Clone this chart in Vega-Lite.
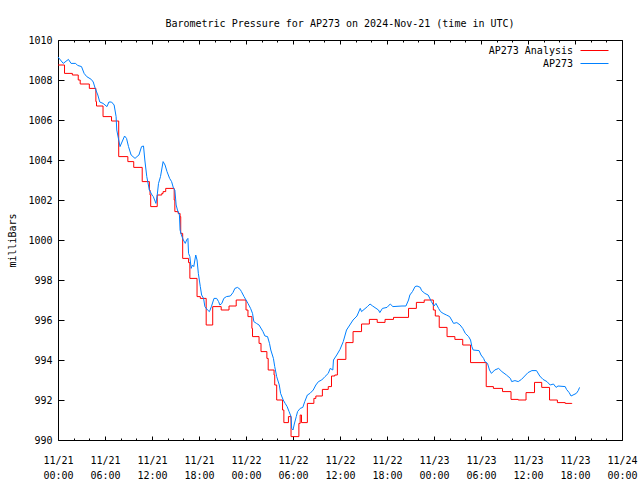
{
  "$schema": "https://vega.github.io/schema/vega-lite/v6.json",
  "width": 564,
  "height": 400,
  "autosize": {"type": "none"},
  "padding": {"left": 58, "top": 40, "right": 18, "bottom": 40},
  "background": "white",
  "config": {
    "font": "DejaVu Sans Mono",
    "view": {"stroke": "black", "strokeWidth": 1},
    "axis": {"grid": false, "domain": false, "labelFont": "DejaVu Sans Mono", "labelFontSize": 10, "labelColor": "black", "tickColor": "black", "tickWidth": 1, "titleFont": "DejaVu Sans Mono", "titleFontSize": 10, "titleFontWeight": "normal", "titleColor": "black"}
  },
  "title": {"text": "Barometric Pressure for AP273 on 2024-Nov-21 (time in UTC)", "font": "DejaVu Sans Mono", "fontSize": 10, "fontWeight": "normal", "color": "black", "anchor": "middle", "baseline": "alphabetic", "offset": -2},
  "datasets": {
    "analysis": [
      {"time": "2024-11-21T00:00:00Z", "pressure": 1008.75},
      {"time": "2024-11-21T00:50:00Z", "pressure": 1008.33},
      {"time": "2024-11-21T01:50:00Z", "pressure": 1008.25},
      {"time": "2024-11-21T02:35:00Z", "pressure": 1008.0},
      {"time": "2024-11-21T02:50:00Z", "pressure": 1007.8},
      {"time": "2024-11-21T04:00:00Z", "pressure": 1007.58},
      {"time": "2024-11-21T04:50:00Z", "pressure": 1006.92},
      {"time": "2024-11-21T04:55:00Z", "pressure": 1006.7},
      {"time": "2024-11-21T05:45:00Z", "pressure": 1006.17},
      {"time": "2024-11-21T06:50:00Z", "pressure": 1005.95},
      {"time": "2024-11-21T07:45:00Z", "pressure": 1004.17},
      {"time": "2024-11-21T08:55:00Z", "pressure": 1003.92},
      {"time": "2024-11-21T09:40:00Z", "pressure": 1003.63},
      {"time": "2024-11-21T10:45:00Z", "pressure": 1002.92},
      {"time": "2024-11-21T11:40:00Z", "pressure": 1002.5},
      {"time": "2024-11-21T11:45:00Z", "pressure": 1002.25},
      {"time": "2024-11-21T11:50:00Z", "pressure": 1001.67},
      {"time": "2024-11-21T12:40:00Z", "pressure": 1002.25},
      {"time": "2024-11-21T13:15:00Z", "pressure": 1002.33},
      {"time": "2024-11-21T13:25:00Z", "pressure": 1002.42},
      {"time": "2024-11-21T13:45:00Z", "pressure": 1002.58},
      {"time": "2024-11-21T14:50:00Z", "pressure": 1002.0},
      {"time": "2024-11-21T14:55:00Z", "pressure": 1001.42},
      {"time": "2024-11-21T15:20:00Z", "pressure": 1001.33},
      {"time": "2024-11-21T15:35:00Z", "pressure": 1001.17},
      {"time": "2024-11-21T15:40:00Z", "pressure": 1000.33},
      {"time": "2024-11-21T15:55:00Z", "pressure": 999.08},
      {"time": "2024-11-21T16:40:00Z", "pressure": 998.87},
      {"time": "2024-11-21T16:50:00Z", "pressure": 998.08},
      {"time": "2024-11-21T17:45:00Z", "pressure": 997.17},
      {"time": "2024-11-21T18:10:00Z", "pressure": 997.08},
      {"time": "2024-11-21T18:55:00Z", "pressure": 995.75},
      {"time": "2024-11-21T19:45:00Z", "pressure": 996.67},
      {"time": "2024-11-21T20:50:00Z", "pressure": 996.5},
      {"time": "2024-11-21T21:50:00Z", "pressure": 996.7},
      {"time": "2024-11-21T22:45:00Z", "pressure": 997.0},
      {"time": "2024-11-22T00:00:00Z", "pressure": 996.5},
      {"time": "2024-11-22T00:15:00Z", "pressure": 996.17},
      {"time": "2024-11-22T00:45:00Z", "pressure": 995.58},
      {"time": "2024-11-22T00:50:00Z", "pressure": 995.17},
      {"time": "2024-11-22T01:40:00Z", "pressure": 994.83},
      {"time": "2024-11-22T01:55:00Z", "pressure": 994.42},
      {"time": "2024-11-22T02:40:00Z", "pressure": 994.08},
      {"time": "2024-11-22T02:50:00Z", "pressure": 993.5},
      {"time": "2024-11-22T03:35:00Z", "pressure": 993.25},
      {"time": "2024-11-22T03:40:00Z", "pressure": 992.75},
      {"time": "2024-11-22T03:55:00Z", "pressure": 992.0},
      {"time": "2024-11-22T04:40:00Z", "pressure": 991.5},
      {"time": "2024-11-22T04:50:00Z", "pressure": 990.87},
      {"time": "2024-11-22T05:25:00Z", "pressure": 991.17},
      {"time": "2024-11-22T05:45:00Z", "pressure": 990.17},
      {"time": "2024-11-22T06:45:00Z", "pressure": 990.83},
      {"time": "2024-11-22T06:55:00Z", "pressure": 991.25},
      {"time": "2024-11-22T07:05:00Z", "pressure": 990.87},
      {"time": "2024-11-22T07:50:00Z", "pressure": 991.83},
      {"time": "2024-11-22T08:40:00Z", "pressure": 992.08},
      {"time": "2024-11-22T08:55:00Z", "pressure": 992.2},
      {"time": "2024-11-22T09:45:00Z", "pressure": 992.53},
      {"time": "2024-11-22T10:30:00Z", "pressure": 992.67},
      {"time": "2024-11-22T10:55:00Z", "pressure": 993.2},
      {"time": "2024-11-22T11:20:00Z", "pressure": 993.25},
      {"time": "2024-11-22T11:40:00Z", "pressure": 994.03},
      {"time": "2024-11-22T12:45:00Z", "pressure": 994.87},
      {"time": "2024-11-22T13:40:00Z", "pressure": 995.42},
      {"time": "2024-11-22T14:45:00Z", "pressure": 995.8},
      {"time": "2024-11-22T15:45:00Z", "pressure": 996.03},
      {"time": "2024-11-22T16:45:00Z", "pressure": 995.88},
      {"time": "2024-11-22T17:45:00Z", "pressure": 996.03},
      {"time": "2024-11-22T18:50:00Z", "pressure": 996.13},
      {"time": "2024-11-22T20:45:00Z", "pressure": 996.58},
      {"time": "2024-11-22T21:45:00Z", "pressure": 996.88},
      {"time": "2024-11-22T22:45:00Z", "pressure": 997.0},
      {"time": "2024-11-22T23:55:00Z", "pressure": 996.5},
      {"time": "2024-11-23T00:10:00Z", "pressure": 996.2},
      {"time": "2024-11-23T00:40:00Z", "pressure": 995.63},
      {"time": "2024-11-23T01:40:00Z", "pressure": 995.17},
      {"time": "2024-11-23T02:40:00Z", "pressure": 995.03},
      {"time": "2024-11-23T03:40:00Z", "pressure": 994.75},
      {"time": "2024-11-23T04:40:00Z", "pressure": 993.87},
      {"time": "2024-11-23T06:40:00Z", "pressure": 992.67},
      {"time": "2024-11-23T07:35:00Z", "pressure": 992.58},
      {"time": "2024-11-23T08:45:00Z", "pressure": 992.42},
      {"time": "2024-11-23T09:50:00Z", "pressure": 992.03},
      {"time": "2024-11-23T10:45:00Z", "pressure": 992.0},
      {"time": "2024-11-23T11:45:00Z", "pressure": 992.37},
      {"time": "2024-11-23T12:50:00Z", "pressure": 992.88},
      {"time": "2024-11-23T13:45:00Z", "pressure": 992.63},
      {"time": "2024-11-23T14:45:00Z", "pressure": 992.0},
      {"time": "2024-11-23T15:45:00Z", "pressure": 991.87},
      {"time": "2024-11-23T16:45:00Z", "pressure": 991.83},
      {"time": "2024-11-23T17:35:00Z", "pressure": 991.8}
    ],
    "obs": [
      {"time": "2024-11-21T00:00:00Z", "pressure": 1009.15},
      {"time": "2024-11-21T00:40:00Z", "pressure": 1008.83},
      {"time": "2024-11-21T01:20:00Z", "pressure": 1009.03},
      {"time": "2024-11-21T01:40:00Z", "pressure": 1008.83},
      {"time": "2024-11-21T02:15:00Z", "pressure": 1008.83},
      {"time": "2024-11-21T02:30:00Z", "pressure": 1008.73},
      {"time": "2024-11-21T03:00:00Z", "pressure": 1008.67},
      {"time": "2024-11-21T03:20:00Z", "pressure": 1008.33},
      {"time": "2024-11-21T03:40:00Z", "pressure": 1008.17},
      {"time": "2024-11-21T04:15:00Z", "pressure": 1008.03},
      {"time": "2024-11-21T04:30:00Z", "pressure": 1007.9},
      {"time": "2024-11-21T04:45:00Z", "pressure": 1007.58},
      {"time": "2024-11-21T05:05:00Z", "pressure": 1007.25},
      {"time": "2024-11-21T05:20:00Z", "pressure": 1006.9},
      {"time": "2024-11-21T05:45:00Z", "pressure": 1006.83},
      {"time": "2024-11-21T06:15:00Z", "pressure": 1006.67},
      {"time": "2024-11-21T06:30:00Z", "pressure": 1006.9},
      {"time": "2024-11-21T06:50:00Z", "pressure": 1006.9},
      {"time": "2024-11-21T07:10:00Z", "pressure": 1006.75},
      {"time": "2024-11-21T07:25:00Z", "pressure": 1006.17},
      {"time": "2024-11-21T07:30:00Z", "pressure": 1005.5},
      {"time": "2024-11-21T07:45:00Z", "pressure": 1005.0},
      {"time": "2024-11-21T07:55:00Z", "pressure": 1004.67},
      {"time": "2024-11-21T08:30:00Z", "pressure": 1005.2},
      {"time": "2024-11-21T08:45:00Z", "pressure": 1005.08},
      {"time": "2024-11-21T09:00:00Z", "pressure": 1004.67},
      {"time": "2024-11-21T09:20:00Z", "pressure": 1004.25},
      {"time": "2024-11-21T09:50:00Z", "pressure": 1004.08},
      {"time": "2024-11-21T10:05:00Z", "pressure": 1004.17},
      {"time": "2024-11-21T10:20:00Z", "pressure": 1004.25},
      {"time": "2024-11-21T10:40:00Z", "pressure": 1004.67},
      {"time": "2024-11-21T10:55:00Z", "pressure": 1004.7},
      {"time": "2024-11-21T11:05:00Z", "pressure": 1004.0},
      {"time": "2024-11-21T11:20:00Z", "pressure": 1003.17},
      {"time": "2024-11-21T11:40:00Z", "pressure": 1002.5},
      {"time": "2024-11-21T12:00:00Z", "pressure": 1002.25},
      {"time": "2024-11-21T12:10:00Z", "pressure": 1002.17},
      {"time": "2024-11-21T12:30:00Z", "pressure": 1001.83},
      {"time": "2024-11-21T12:40:00Z", "pressure": 1002.25},
      {"time": "2024-11-21T12:50:00Z", "pressure": 1002.83},
      {"time": "2024-11-21T13:05:00Z", "pressure": 1003.17},
      {"time": "2024-11-21T13:25:00Z", "pressure": 1003.92},
      {"time": "2024-11-21T13:40:00Z", "pressure": 1003.75},
      {"time": "2024-11-21T13:55:00Z", "pressure": 1003.42},
      {"time": "2024-11-21T14:15:00Z", "pressure": 1003.08},
      {"time": "2024-11-21T14:30:00Z", "pressure": 1002.92},
      {"time": "2024-11-21T14:45:00Z", "pressure": 1002.58},
      {"time": "2024-11-21T14:55:00Z", "pressure": 1002.5},
      {"time": "2024-11-21T15:05:00Z", "pressure": 1001.75},
      {"time": "2024-11-21T15:15:00Z", "pressure": 1001.5},
      {"time": "2024-11-21T15:30:00Z", "pressure": 1001.25},
      {"time": "2024-11-21T15:35:00Z", "pressure": 1000.5},
      {"time": "2024-11-21T15:45:00Z", "pressure": 1000.25},
      {"time": "2024-11-21T16:00:00Z", "pressure": 1000.0},
      {"time": "2024-11-21T16:15:00Z", "pressure": 999.83},
      {"time": "2024-11-21T16:25:00Z", "pressure": 1000.0},
      {"time": "2024-11-21T16:35:00Z", "pressure": 1000.08},
      {"time": "2024-11-21T16:40:00Z", "pressure": 999.33},
      {"time": "2024-11-21T16:50:00Z", "pressure": 999.17},
      {"time": "2024-11-21T17:00:00Z", "pressure": 998.58},
      {"time": "2024-11-21T17:10:00Z", "pressure": 998.75},
      {"time": "2024-11-21T17:20:00Z", "pressure": 998.67},
      {"time": "2024-11-21T17:35:00Z", "pressure": 999.25},
      {"time": "2024-11-21T17:45:00Z", "pressure": 999.0},
      {"time": "2024-11-21T17:55:00Z", "pressure": 998.33},
      {"time": "2024-11-21T18:10:00Z", "pressure": 997.67},
      {"time": "2024-11-21T18:20:00Z", "pressure": 997.25},
      {"time": "2024-11-21T18:35:00Z", "pressure": 997.08},
      {"time": "2024-11-21T18:45:00Z", "pressure": 996.67},
      {"time": "2024-11-21T19:05:00Z", "pressure": 996.5},
      {"time": "2024-11-21T19:20:00Z", "pressure": 996.42},
      {"time": "2024-11-21T19:35:00Z", "pressure": 996.67},
      {"time": "2024-11-21T19:55:00Z", "pressure": 997.08},
      {"time": "2024-11-21T20:15:00Z", "pressure": 997.08},
      {"time": "2024-11-21T20:30:00Z", "pressure": 996.92},
      {"time": "2024-11-21T20:40:00Z", "pressure": 996.75},
      {"time": "2024-11-21T20:55:00Z", "pressure": 996.83},
      {"time": "2024-11-21T21:10:00Z", "pressure": 997.08},
      {"time": "2024-11-21T21:30:00Z", "pressure": 997.17},
      {"time": "2024-11-21T22:00:00Z", "pressure": 997.2},
      {"time": "2024-11-21T22:20:00Z", "pressure": 997.37},
      {"time": "2024-11-21T22:35:00Z", "pressure": 997.58},
      {"time": "2024-11-21T22:55:00Z", "pressure": 997.63},
      {"time": "2024-11-21T23:15:00Z", "pressure": 997.53},
      {"time": "2024-11-21T23:25:00Z", "pressure": 997.42},
      {"time": "2024-11-21T23:45:00Z", "pressure": 997.17},
      {"time": "2024-11-22T00:00:00Z", "pressure": 997.0},
      {"time": "2024-11-22T00:15:00Z", "pressure": 996.83},
      {"time": "2024-11-22T00:35:00Z", "pressure": 996.58},
      {"time": "2024-11-22T00:50:00Z", "pressure": 996.33},
      {"time": "2024-11-22T01:00:00Z", "pressure": 995.92},
      {"time": "2024-11-22T01:20:00Z", "pressure": 995.83},
      {"time": "2024-11-22T01:40:00Z", "pressure": 995.75},
      {"time": "2024-11-22T02:10:00Z", "pressure": 995.42},
      {"time": "2024-11-22T02:25:00Z", "pressure": 995.2},
      {"time": "2024-11-22T02:45:00Z", "pressure": 995.17},
      {"time": "2024-11-22T03:00:00Z", "pressure": 994.83},
      {"time": "2024-11-22T03:10:00Z", "pressure": 994.5},
      {"time": "2024-11-22T03:30:00Z", "pressure": 994.08},
      {"time": "2024-11-22T03:40:00Z", "pressure": 993.67},
      {"time": "2024-11-22T03:55:00Z", "pressure": 993.17},
      {"time": "2024-11-22T04:15:00Z", "pressure": 992.75},
      {"time": "2024-11-22T04:25:00Z", "pressure": 992.33},
      {"time": "2024-11-22T04:45:00Z", "pressure": 992.0},
      {"time": "2024-11-22T05:00:00Z", "pressure": 991.83},
      {"time": "2024-11-22T05:15:00Z", "pressure": 991.67},
      {"time": "2024-11-22T05:30:00Z", "pressure": 991.42},
      {"time": "2024-11-22T05:45:00Z", "pressure": 991.17},
      {"time": "2024-11-22T05:50:00Z", "pressure": 990.58},
      {"time": "2024-11-22T06:00:00Z", "pressure": 990.5},
      {"time": "2024-11-22T06:10:00Z", "pressure": 990.8},
      {"time": "2024-11-22T06:25:00Z", "pressure": 991.17},
      {"time": "2024-11-22T06:35:00Z", "pressure": 991.42},
      {"time": "2024-11-22T06:55:00Z", "pressure": 991.58},
      {"time": "2024-11-22T07:15:00Z", "pressure": 991.63},
      {"time": "2024-11-22T07:30:00Z", "pressure": 991.92},
      {"time": "2024-11-22T07:50:00Z", "pressure": 992.25},
      {"time": "2024-11-22T08:10:00Z", "pressure": 992.33},
      {"time": "2024-11-22T08:35:00Z", "pressure": 992.5},
      {"time": "2024-11-22T08:55:00Z", "pressure": 992.75},
      {"time": "2024-11-22T09:15:00Z", "pressure": 992.92},
      {"time": "2024-11-22T09:40:00Z", "pressure": 993.0},
      {"time": "2024-11-22T10:05:00Z", "pressure": 993.17},
      {"time": "2024-11-22T10:30:00Z", "pressure": 993.33},
      {"time": "2024-11-22T10:45:00Z", "pressure": 993.58},
      {"time": "2024-11-22T11:05:00Z", "pressure": 993.5},
      {"time": "2024-11-22T11:10:00Z", "pressure": 994.0},
      {"time": "2024-11-22T11:35:00Z", "pressure": 994.25},
      {"time": "2024-11-22T12:00:00Z", "pressure": 994.53},
      {"time": "2024-11-22T12:25:00Z", "pressure": 994.92},
      {"time": "2024-11-22T12:50:00Z", "pressure": 995.5},
      {"time": "2024-11-22T13:15:00Z", "pressure": 995.75},
      {"time": "2024-11-22T13:40:00Z", "pressure": 996.0},
      {"time": "2024-11-22T14:10:00Z", "pressure": 996.2},
      {"time": "2024-11-22T14:35:00Z", "pressure": 996.58},
      {"time": "2024-11-22T14:45:00Z", "pressure": 996.42},
      {"time": "2024-11-22T15:30:00Z", "pressure": 996.67},
      {"time": "2024-11-22T15:50:00Z", "pressure": 996.8},
      {"time": "2024-11-22T16:10:00Z", "pressure": 996.7},
      {"time": "2024-11-22T16:55:00Z", "pressure": 996.5},
      {"time": "2024-11-22T17:05:00Z", "pressure": 996.37},
      {"time": "2024-11-22T17:25:00Z", "pressure": 996.58},
      {"time": "2024-11-22T18:00:00Z", "pressure": 996.63},
      {"time": "2024-11-22T18:25:00Z", "pressure": 996.8},
      {"time": "2024-11-22T18:45:00Z", "pressure": 996.67},
      {"time": "2024-11-22T19:55:00Z", "pressure": 996.7},
      {"time": "2024-11-22T20:25:00Z", "pressure": 996.7},
      {"time": "2024-11-22T20:45:00Z", "pressure": 997.0},
      {"time": "2024-11-22T20:55:00Z", "pressure": 997.25},
      {"time": "2024-11-22T21:15:00Z", "pressure": 997.42},
      {"time": "2024-11-22T21:35:00Z", "pressure": 997.67},
      {"time": "2024-11-22T21:50:00Z", "pressure": 997.7},
      {"time": "2024-11-22T22:15:00Z", "pressure": 997.63},
      {"time": "2024-11-22T22:25:00Z", "pressure": 997.47},
      {"time": "2024-11-22T22:50:00Z", "pressure": 997.33},
      {"time": "2024-11-22T23:15:00Z", "pressure": 997.25},
      {"time": "2024-11-22T23:40:00Z", "pressure": 996.92},
      {"time": "2024-11-23T00:00:00Z", "pressure": 996.7},
      {"time": "2024-11-23T00:15:00Z", "pressure": 996.83},
      {"time": "2024-11-23T00:35:00Z", "pressure": 996.58},
      {"time": "2024-11-23T00:50:00Z", "pressure": 996.42},
      {"time": "2024-11-23T01:10:00Z", "pressure": 996.33},
      {"time": "2024-11-23T01:35:00Z", "pressure": 996.25},
      {"time": "2024-11-23T02:00:00Z", "pressure": 996.17},
      {"time": "2024-11-23T02:30:00Z", "pressure": 995.83},
      {"time": "2024-11-23T02:55:00Z", "pressure": 995.87},
      {"time": "2024-11-23T03:20:00Z", "pressure": 995.75},
      {"time": "2024-11-23T03:40:00Z", "pressure": 995.58},
      {"time": "2024-11-23T04:00:00Z", "pressure": 995.33},
      {"time": "2024-11-23T04:25:00Z", "pressure": 995.17},
      {"time": "2024-11-23T04:40:00Z", "pressure": 995.0},
      {"time": "2024-11-23T04:50:00Z", "pressure": 994.67},
      {"time": "2024-11-23T05:00:00Z", "pressure": 994.5},
      {"time": "2024-11-23T05:45:00Z", "pressure": 994.47},
      {"time": "2024-11-23T06:00:00Z", "pressure": 994.25},
      {"time": "2024-11-23T06:20:00Z", "pressure": 994.08},
      {"time": "2024-11-23T06:30:00Z", "pressure": 993.92},
      {"time": "2024-11-23T06:50:00Z", "pressure": 993.83},
      {"time": "2024-11-23T07:05:00Z", "pressure": 993.5},
      {"time": "2024-11-23T07:20:00Z", "pressure": 993.33},
      {"time": "2024-11-23T07:45:00Z", "pressure": 993.5},
      {"time": "2024-11-23T08:15:00Z", "pressure": 993.58},
      {"time": "2024-11-23T08:40:00Z", "pressure": 993.42},
      {"time": "2024-11-23T09:15:00Z", "pressure": 993.25},
      {"time": "2024-11-23T09:45:00Z", "pressure": 993.08},
      {"time": "2024-11-23T09:55:00Z", "pressure": 992.92},
      {"time": "2024-11-23T10:20:00Z", "pressure": 992.97},
      {"time": "2024-11-23T10:45:00Z", "pressure": 992.92},
      {"time": "2024-11-23T11:10:00Z", "pressure": 993.03},
      {"time": "2024-11-23T11:35:00Z", "pressure": 993.2},
      {"time": "2024-11-23T12:00:00Z", "pressure": 993.37},
      {"time": "2024-11-23T12:30:00Z", "pressure": 993.47},
      {"time": "2024-11-23T13:05:00Z", "pressure": 993.47},
      {"time": "2024-11-23T13:30:00Z", "pressure": 993.2},
      {"time": "2024-11-23T13:55:00Z", "pressure": 993.03},
      {"time": "2024-11-23T14:25:00Z", "pressure": 992.92},
      {"time": "2024-11-23T14:50:00Z", "pressure": 992.75},
      {"time": "2024-11-23T15:15:00Z", "pressure": 992.8},
      {"time": "2024-11-23T15:35:00Z", "pressure": 992.63},
      {"time": "2024-11-23T15:50:00Z", "pressure": 992.7},
      {"time": "2024-11-23T16:45:00Z", "pressure": 992.67},
      {"time": "2024-11-23T16:55:00Z", "pressure": 992.53},
      {"time": "2024-11-23T17:15:00Z", "pressure": 992.37},
      {"time": "2024-11-23T17:30:00Z", "pressure": 992.2},
      {"time": "2024-11-23T17:45:00Z", "pressure": 992.25},
      {"time": "2024-11-23T18:10:00Z", "pressure": 992.33},
      {"time": "2024-11-23T18:25:00Z", "pressure": 992.47},
      {"time": "2024-11-23T18:35:00Z", "pressure": 992.63}
    ]
  },
  "layer": [
    {
      "data": {"name": "analysis"},
      "mark": {"type": "line", "interpolate": "step-after", "strokeWidth": 1},
      "encoding": {
        "x": {
          "field": "time", "type": "temporal",
          "scale": {"type": "utc", "domain": [1732147200000, 1732406400000], "nice": false},
          "axis": {
            "orient": "bottom", "title": null,
            "values": [1732147200000, 1732154400000, 1732161600000, 1732168800000, 1732176000000, 1732183200000, 1732190400000, 1732197600000, 1732204800000, 1732212000000, 1732219200000, 1732226400000, 1732233600000, 1732240800000, 1732248000000, 1732255200000, 1732262400000, 1732269600000, 1732276800000, 1732284000000, 1732291200000, 1732298400000, 1732305600000, 1732312800000, 1732320000000, 1732327200000, 1732334400000, 1732341600000, 1732348800000, 1732356000000, 1732363200000, 1732370400000, 1732377600000, 1732384800000, 1732392000000, 1732399200000, 1732406400000],
            "tickSize": {"condition": {"test": "utchours(datum.value) % 6 == 0", "value": -4}, "value": -2},
            "labelExpr": "utchours(datum.value) % 6 == 0 ? [utcFormat(datum.value, '%m/%d'), utcFormat(datum.value, '%H:%M')] : ''",
            "labelBaseline": "top", "labelAlign": "center", "labelLineHeight": 15, "labelPadding": 19,
            "labelOverlap": false, "labelFlush": false, "labelBound": false
          }
        },
        "y": {
          "field": "pressure", "type": "quantitative",
          "scale": {"domain": [990, 1010], "nice": false, "zero": false},
          "axis": {
            "orient": "left", "title": "milliBars", "format": "d",
            "values": [990, 992, 994, 996, 998, 1000, 1002, 1004, 1006, 1008, 1010],
            "tickSize": -6, "labelPadding": 12, "labelOverlap": false, "labelFlush": false,
            "titleAngle": -90, "titleX": -46, "titleY": 200, "titleAlign": "center", "titleBaseline": "middle"
          }
        },
        "color": {
          "datum": "AP273 Analysis",
          "scale": {"domain": ["AP273 Analysis", "AP273"], "range": ["#ff0000", "#0080ff"]},
          "legend": {
            "title": null, "orient": "none", "legendX": 529, "legendY": 3,
            "symbolType": "M-2,0H2", "symbolSize": 196, "symbolStrokeWidth": 1,
            "labelAlign": "right", "labelOffset": -29,
            "labelFont": "DejaVu Sans Mono", "labelFontSize": 10, "labelColor": "black",
            "rowPadding": -1
          }
        }
      }
    },
    {
      "data": {"name": "obs"},
      "mark": {"type": "line", "interpolate": "linear", "strokeWidth": 1},
      "encoding": {
        "x": {
          "field": "time", "type": "temporal",
          "axis": {
            "orient": "top", "title": null, "labels": false,
            "values": [1732147200000, 1732154400000, 1732161600000, 1732168800000, 1732176000000, 1732183200000, 1732190400000, 1732197600000, 1732204800000, 1732212000000, 1732219200000, 1732226400000, 1732233600000, 1732240800000, 1732248000000, 1732255200000, 1732262400000, 1732269600000, 1732276800000, 1732284000000, 1732291200000, 1732298400000, 1732305600000, 1732312800000, 1732320000000, 1732327200000, 1732334400000, 1732341600000, 1732348800000, 1732356000000, 1732363200000, 1732370400000, 1732377600000, 1732384800000, 1732392000000, 1732399200000, 1732406400000],
            "tickSize": {"condition": {"test": "utchours(datum.value) % 6 == 0", "value": -4}, "value": -2}
          }
        },
        "y": {
          "field": "pressure", "type": "quantitative",
          "axis": {
            "orient": "right", "title": null, "labels": false,
            "values": [990, 992, 994, 996, 998, 1000, 1002, 1004, 1006, 1008, 1010],
            "tickSize": -6
          }
        },
        "color": {"datum": "AP273"}
      }
    }
  ],
  "resolve": {"axis": {"x": "independent", "y": "independent"}}
}
